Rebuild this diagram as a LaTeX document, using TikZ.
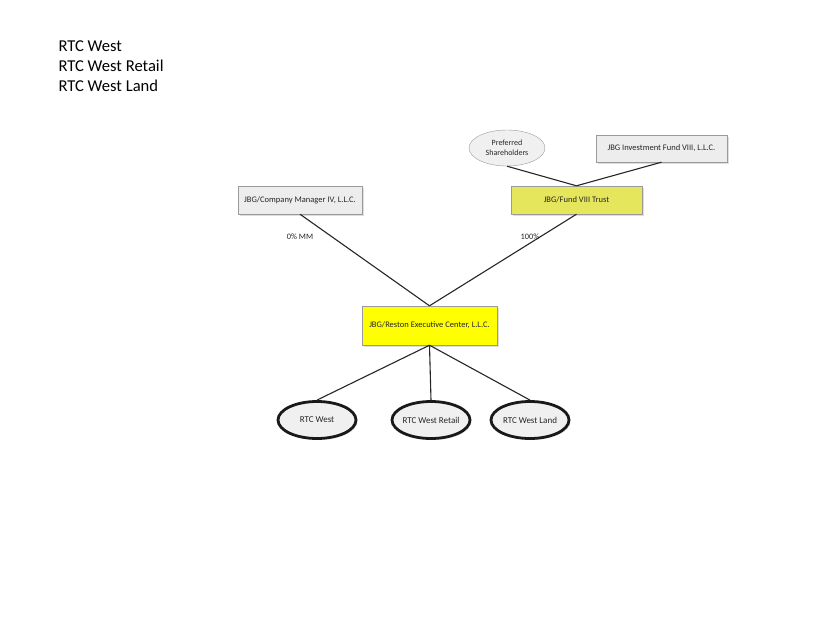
\documentclass[tikz,border=0pt]{standalone}
\usepackage{fontspec}
\setmainfont{Carlito}
\usetikzlibrary{positioning,shapes.geometric,shadows}
\definecolor{boxgray}{HTML}{EDEDED}
\definecolor{linegray}{HTML}{9A9A9A}
\definecolor{trustyellow}{HTML}{E6E65C}
\definecolor{centeryellow}{HTML}{FFFF00}
\definecolor{ovalgray}{HTML}{F0F0F0}
\definecolor{labeltext}{HTML}{262626}

\tikzset{
  entity/.style={draw=linegray, fill=boxgray, minimum width=#1, minimum height=28pt,
    inner sep=0pt, text=labeltext, font=\fontsize{8.5}{10}\selectfont,
    drop shadow={shadow xshift=1.5pt, shadow yshift=-1.5pt, fill=black!25}},
  entity/.default=124pt,
  holder/.style={ellipse, draw=linegray, fill=ovalgray, minimum width=76pt, minimum height=36pt,
    inner sep=0pt, align=center, text=labeltext, font=\fontsize{8}{10}\selectfont},
  project/.style={ellipse, draw=black!90, line width=2.8pt, fill=ovalgray, minimum width=78pt,
    minimum height=37pt, inner sep=-4pt, text=labeltext, font=\fontsize{9}{10}\selectfont,
    drop shadow={shadow xshift=1.5pt, shadow yshift=-1.5pt, fill=black!20}},
  link/.style={draw=black!85, line width=1.1pt},
  pct/.style={text=labeltext, font=\fontsize{8.3}{10}\selectfont}
}

\begin{document}
\begin{tikzpicture}[x=1pt, y=-1pt]
\useasboundingbox[fill=white] (0,0) rectangle (825,635);

\node[anchor=west, align=left, font=\fontsize{16.6}{20}\selectfont] (title) at (55,66)
  {RTC West\\RTC West Retail\\RTC West Land};

\node[holder] (pref) at (507,148) {Preferred\\Shareholders};
\node[entity=131pt, minimum height=27pt] (fund) at (661.5,148.5) {JBG Investment Fund VIII, L.L.C.};
\node[entity=131pt, fill=trustyellow] (trust) at (576.5,200) {JBG/Fund VIII Trust};
\node[entity] (mgr) at (300,200) {JBG/Company Manager IV, L.L.C.};
\node[entity=135pt, minimum height=39pt, fill=centeryellow] (rec) at (429.5,325.5) {JBG/Reston Executive Center, L.L.C.};

\node[project] (west) at (317,420) {RTC West};
\node[project] (retail) at (431,420) {RTC West Retail};
\node[project] (land) at (530,420) {RTC West Land};

\draw[link] (pref.south) -- (trust.north);
\draw[link] (fund.south) -- (trust.north);
\draw[link] (trust.south) -- (rec.north);
\draw[link] (mgr.south) -- (rec.north);
\draw[link] (rec.south) -- (west.north);
\draw[link] (rec.south) -- (retail.north);
\draw[link] (rec.south) -- (land.north);

\node[pct] (mm) at (300,237) {0\% MM};
\node[pct] (full) at (530,237) {100\%};
\end{tikzpicture}
\end{document}
